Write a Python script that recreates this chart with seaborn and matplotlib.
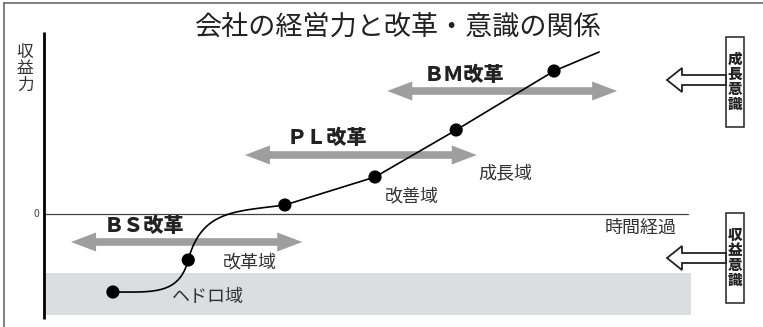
import numpy as np
import pandas as pd
import matplotlib
matplotlib.use("Agg")
import matplotlib.pyplot as plt
import seaborn as sns
from matplotlib.patches import Polygon, Rectangle

# ---------------- data ----------------
title = "会社の経営力と改革・意識の関係"
y_label = "収益力"
x_label = "時間経過"

# trajectory of the company (time, profitability)
point_time = [1.07, 2.24, 3.74, 5.14, 6.40, 7.92]
point_profit = [-3.9, -2.3, 0.45, 1.85, 4.20, 7.15]
line_end_time = 8.62
line_end_profit = 8.10

# reform arrows
reform_labels = ["ＢＳ改革", "ＰＬ改革", "ＢＭ改革"]
reform_start = [0.42, 3.12, 5.33]
reform_end = [4.01, 6.72, 8.90]
reform_level = [-1.40, 2.95, 6.15]
reform_label_t = [1.55, 4.39, 6.52]
reform_label_y = [-0.60, 3.80, 6.95]

# zones
zone_labels = ["ヘドロ域", "改革域", "改善域", "成長域"]
zone_t = [2.55, 3.20, 5.71, 7.16]
zone_y = [-4.15, -2.40, 0.90, 2.00]

# sludge band (negative profit region)
band_bottom, band_top = -5.05, -2.95
band_t0, band_t1 = 0.0, 10.05

# awareness boxes
aware_labels = ["成長意識", "収益意識"]
aware_top = [8.85, 0.05]
aware_bottom = [4.35, -4.45]
aware_arrow_y = [6.70, -2.20]

# ---------------- figure ----------------
sns.set_theme(style="white")
plt.rcParams["font.family"] = ["Noto Sans CJK JP", "DejaVu Sans"]

W, H = 763, 327
fig = plt.figure(figsize=(W / 100, H / 100), dpi=100)
ax = fig.add_axes([0, 0, 1, 1])
ax.set_xlim(-44 / 64.4, (W - 44) / 64.4)
ax.set_ylim((214 - H) / 20, 214 / 20)
ax.axis("off")

to_disp = ax.transData.transform
to_data = ax.transData.inverted().transform

# outer frame (top and left)
ax.plot([-40 / 64.4, 20], [(214 - 3) / 20] * 2, color="#6a6a6a", lw=1.2, clip_on=False)
ax.plot([-40 / 64.4] * 2, [(214 - 3) / 20, -20], color="#6a6a6a", lw=1.2, clip_on=False)

# sludge band
ax.add_patch(Rectangle((band_t0, band_bottom), band_t1 - band_t0, band_top - band_bottom,
                       facecolor="#dcdddf", edgecolor="none", zorder=0))

# axes lines
ax.plot([0, 0], [-5.25, 9.1], color="black", lw=2.0, solid_capstyle="butt", zorder=2)
ax.plot([0, 10.0], [0, 0], color="#444444", lw=0.9, zorder=1)
ax.text(-0.08, 0, "0", ha="right", va="center", fontsize=7.5, color="#444444")
ax.text(-0.295, 7.25, "\n".join(y_label), ha="center", va="center", fontsize=12,
        linespacing=0.95, color="#333333")
ax.text(9.83, -0.70, x_label, ha="right", va="center", fontsize=13, color="#333333")

# double-headed gray reform arrows
def double_arrow(t0, t1, lev):
    (x0, y), (x1, _) = to_disp([(t0, lev), (t1, lev)])
    h, Hh, L = 3.8, 9.5, 25
    pts = [(x0, y), (x0 + L, y + Hh), (x0 + L, y + h), (x1 - L, y + h), (x1 - L, y + Hh),
           (x1, y), (x1 - L, y - Hh), (x1 - L, y - h), (x0 + L, y - h), (x0 + L, y - Hh)]
    ax.add_patch(Polygon(to_data(pts), closed=True, facecolor="#9e9e9e",
                         edgecolor="none", zorder=1))

for t0, t1, lev, lab, lt, ly in zip(reform_start, reform_end, reform_level,
                                    reform_labels, reform_label_t, reform_label_y):
    double_arrow(t0, t1, lev)
    ax.text(lt, ly, lab, ha="center", va="center", fontsize=14.5, fontweight="heavy",
            color="#222222")

# zone labels
for lab, t, y in zip(zone_labels, zone_t, zone_y):
    ax.text(t, y, lab, ha="center", va="center", fontsize=13, color="#333333")

# trajectory: smooth Hermite curve for first two segments, straight afterwards
P = to_disp(np.column_stack([point_time, point_profit]))
tangents = [np.array([120.0, 0.0]), np.array([28.0, 105.0]),
            np.array([40.0, 150.0]), np.array([150.0, 20.0])]

def hermite(p0, p1, m0, m1, n=60):
    s = np.linspace(0, 1, n)[:, None]
    h00 = 2 * s**3 - 3 * s**2 + 1
    h10 = s**3 - 2 * s**2 + s
    h01 = -2 * s**3 + 3 * s**2
    h11 = s**3 - s**2
    return h00 * p0 + h10 * m0 + h01 * p1 + h11 * m1

seg1 = hermite(P[0], P[1], tangents[0], tangents[1])
seg2 = hermite(P[1], P[2], tangents[2], tangents[3])
curve = to_data(np.vstack([seg1, seg2[1:]]))
straight_t = point_time[3:] + [line_end_time]
straight_y = point_profit[3:] + [line_end_profit]
traj = pd.DataFrame({
    "time": np.concatenate([curve[:, 0], straight_t]),
    "profit": np.concatenate([curve[:, 1], straight_y]),
})
sns.lineplot(data=traj, x="time", y="profit", sort=False, estimator=None,
             color="black", lw=1.2, ax=ax, zorder=3)
pts_df = pd.DataFrame({"time": point_time, "profit": point_profit})
sns.scatterplot(data=pts_df, x="time", y="profit", s=90, color="black",
                edgecolor="none", ax=ax, zorder=4)
ax.set_xlim(-44 / 64.4, (W - 44) / 64.4)
ax.set_ylim((214 - H) / 20, 214 / 20)
ax.axis("off")

# awareness boxes and hollow arrows
box_t0 = (726 - 44) / 64.4
box_w = 18 / 64.4
tip_t = (667 - 44) / 64.4
for lab, top, bot, ay in zip(aware_labels, aware_top, aware_bottom, aware_arrow_y):
    ax.add_patch(Rectangle((box_t0, bot), box_w, top - bot, facecolor="white",
                           edgecolor="#222222", lw=1.1, zorder=2))
    ax.text(box_t0 + box_w / 2, (top + bot) / 2, "\n".join(lab), ha="center",
            va="center", fontsize=10.5, fontweight="heavy", linespacing=1.0,
            color="#222222")
    (xt, y), (xb, _) = to_disp([(tip_t, ay), (box_t0, ay)])
    hs, hh, hl = 5, 12, 15
    pts = [(xt, y), (xt + hl, y + hh), (xt + hl, y + hs), (xb, y + hs),
           (xb, y - hs), (xt + hl, y - hs), (xt + hl, y - hh)]
    ax.add_patch(Polygon(to_data(pts), closed=True, facecolor="white",
                         edgecolor="#222222", lw=1.3, joinstyle="miter", zorder=2))

fig.text(397 / W, 1 - 27 / H, title, ha="center", va="center", fontsize=19.5,
         color="#222222")

fig.savefig("out.png", dpi=100)
